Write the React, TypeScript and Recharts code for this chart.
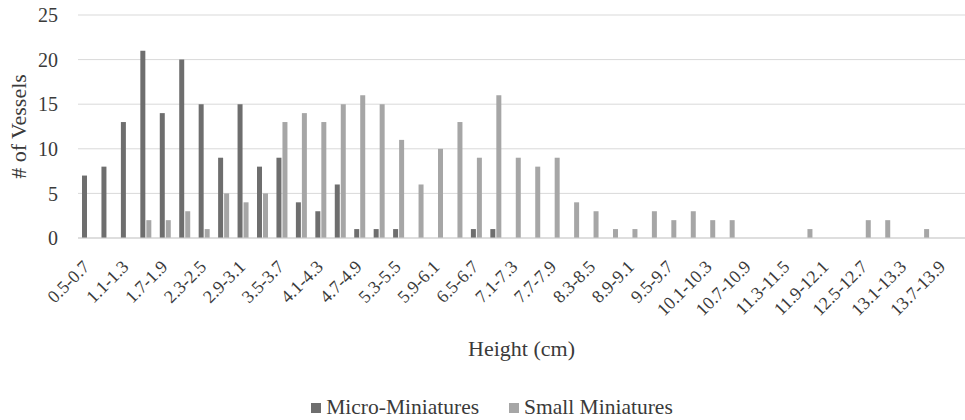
import { Bar, BarChart, CartesianGrid, Legend, XAxis, YAxis } from "recharts";

const categories = [
  "0.5-0.7", "0.8-1.0", "1.1-1.3", "1.4-1.6", "1.7-1.9", "2.0-2.2", "2.3-2.5", "2.6-2.8", "2.9-3.1",
  "3.2-3.4", "3.5-3.7", "3.8-4.0", "4.1-4.3", "4.4-4.6", "4.7-4.9", "5.0-5.2", "5.3-5.5", "5.6-5.8",
  "5.9-6.1", "6.2-6.4", "6.5-6.7", "6.8-7.0", "7.1-7.3", "7.4-7.6", "7.7-7.9", "8.0-8.2", "8.3-8.5",
  "8.6-8.8", "8.9-9.1", "9.2-9.4", "9.5-9.7", "9.8-10.0", "10.1-10.3", "10.4-10.6", "10.7-10.9",
  "11.0-11.2", "11.3-11.5", "11.6-11.8", "11.9-12.1", "12.2-12.4", "12.5-12.7", "12.8-13.0",
  "13.1-13.3", "13.4-13.6", "13.7-13.9",
];

const microMiniatures = [
  7, 8, 13, 21, 14, 20, 15, 9, 15, 8, 9, 4, 3, 6, 1, 1, 1, 0, 0, 0, 1, 1, 0,
  0, 0, 0, 0, 0, 0, 0, 0, 0, 0, 0, 0, 0, 0, 0, 0, 0, 0, 0, 0, 0, 0,
];

const smallMiniatures = [
  0, 0, 0, 2, 2, 3, 1, 5, 4, 5, 13, 14, 13, 15, 16, 15, 11, 6, 10, 13, 9, 16, 9,
  8, 9, 4, 3, 1, 1, 3, 2, 3, 2, 2, 0, 0, 0, 1, 0, 0, 2, 2, 0, 1, 0,
];

const yTicks = [0, 5, 10, 15, 20, 25];

const MICRO = "#6e6e6e";
const SMALL = "#a6a6a6";
const TEXT = "#3a3a3a";
const FONT = "Liberation Serif, DejaVu Serif, Times New Roman, serif";

const data = categories.map((c, i) => ({
  range: c,
  micro: microMiniatures[i],
  small: smallMiniatures[i],
}));

function XTick(props: any) {
  const { x, y, payload } = props;
  return (
    <g transform={`translate(${x + 3},${y + 22})`}>
      <text transform="rotate(-45)" textAnchor="end" fill={TEXT} style={{ fontSize: 18, fontFamily: FONT }}>
        {payload.value}
      </text>
    </g>
  );
}

function LegendBox() {
  const items = [
    { name: "Micro-Miniatures", color: MICRO },
    { name: "Small Miniatures", color: SMALL },
  ];
  return (
    <div
      style={{
        display: "flex",
        justifyContent: "center",
        gap: 30,
        height: 26,
        lineHeight: "26px",
        paddingLeft: 19,
        fontFamily: FONT,
        fontSize: 21.5,
        color: TEXT,
      }}
    >
      {items.map((it) => (
        <span key={it.name} style={{ display: "flex", alignItems: "center" }}>
          <span style={{ width: 10, height: 10, background: it.color, marginRight: 5, marginTop: 2 }} />
          {it.name}
        </span>
      ))}
    </div>
  );
}

export default function App() {
  return (
    <div style={{ position: "absolute", left: 0, top: 0, width: 965, height: 420, background: "#fff", fontFamily: FONT }}>
      <BarChart
        width={965}
        height={420}
        data={data}
        margin={{ top: 15, right: 0, left: 0, bottom: 0 }}
        barSize={5}
        barGap={1}
        style={{ fontFamily: FONT }}
      >
        <CartesianGrid vertical={false} stroke="#d9d9d9" />
        <XAxis
          dataKey="range"
          interval={1}
          tickLine={false}
          axisLine={{ stroke: "#d0d0d0" }}
          padding={{ left: 0, right: 12 }}
          height={156}
          tick={<XTick />}
          label={{
            value: "Height (cm)",
            position: "insideBottom",
            offset: 38,
            fill: TEXT,
            style: { fontSize: 22, fontFamily: FONT },
          }}
        />
        <YAxis
          width={78}
          domain={[0, 25]}
          ticks={yTicks}
          tickLine={false}
          axisLine={false}
          tickMargin={14}
          tick={{ fill: TEXT, style: { fontSize: 20, fontFamily: FONT } }}
          label={{
            value: "# of Vessels",
            angle: -90,
            position: "insideLeft",
            offset: 18,
            fill: TEXT,
            style: { textAnchor: "middle", fontSize: 22, fontFamily: FONT },
          }}
        />
        <Legend verticalAlign="bottom" content={<LegendBox />} />
        <Bar dataKey="micro" name="Micro-Miniatures" fill={MICRO} isAnimationActive={false} />
        <Bar dataKey="small" name="Small Miniatures" fill={SMALL} isAnimationActive={false} />
      </BarChart>
    </div>
  );
}
